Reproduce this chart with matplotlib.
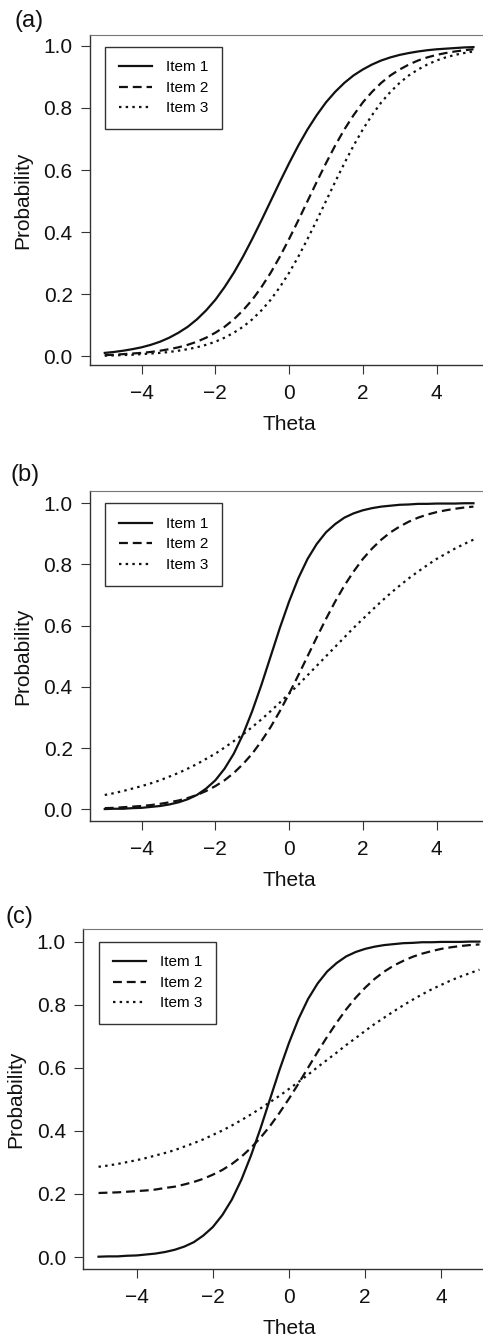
import numpy as np
import matplotlib
matplotlib.use("Agg")
import matplotlib.pyplot as plt

plt.rcParams["font.family"] = ["Liberation Sans", "DejaVu Sans"]

# theta grid shared by all panels
theta = np.linspace(-5, 5, 41)

# (a) one-parameter curves
a_item1 = [0.011, 0.014, 0.018, 0.023, 0.029, 0.037, 0.047, 0.060, 0.076, 0.095,
           0.119, 0.148, 0.182, 0.223, 0.269, 0.321, 0.378, 0.438, 0.500, 0.562,
           0.622, 0.679, 0.731, 0.777, 0.818, 0.852, 0.881, 0.905, 0.924, 0.940,
           0.953, 0.963, 0.971, 0.977, 0.982, 0.986, 0.989, 0.991, 0.993, 0.995,
           0.996]
a_item2 = [0.004, 0.005, 0.007, 0.009, 0.011, 0.014, 0.018, 0.023, 0.029, 0.037,
           0.047, 0.060, 0.076, 0.095, 0.119, 0.148, 0.182, 0.223, 0.269, 0.321,
           0.378, 0.438, 0.500, 0.562, 0.622, 0.679, 0.731, 0.777, 0.818, 0.852,
           0.881, 0.905, 0.924, 0.940, 0.953, 0.963, 0.971, 0.977, 0.982, 0.986,
           0.989]
a_item3 = [0.002, 0.003, 0.004, 0.005, 0.007, 0.009, 0.011, 0.014, 0.018, 0.023,
           0.029, 0.037, 0.047, 0.060, 0.076, 0.095, 0.119, 0.148, 0.182, 0.223,
           0.269, 0.321, 0.378, 0.438, 0.500, 0.562, 0.622, 0.679, 0.731, 0.777,
           0.818, 0.852, 0.881, 0.905, 0.924, 0.940, 0.953, 0.963, 0.971, 0.977,
           0.982]

# (b) two-parameter curves
b_item1 = [0.001, 0.002, 0.002, 0.004, 0.005, 0.008, 0.011, 0.016, 0.023, 0.033,
           0.047, 0.068, 0.095, 0.133, 0.182, 0.245, 0.321, 0.407, 0.500, 0.593,
           0.679, 0.755, 0.818, 0.867, 0.905, 0.932, 0.953, 0.967, 0.977, 0.984,
           0.989, 0.992, 0.995, 0.996, 0.998, 0.998, 0.999, 0.999, 0.999, 1.000,
           1.000]
b_item2 = a_item2
b_item3 = [0.047, 0.053, 0.060, 0.068, 0.076, 0.085, 0.095, 0.107, 0.119, 0.133,
           0.148, 0.165, 0.182, 0.202, 0.223, 0.245, 0.269, 0.294, 0.321, 0.349,
           0.378, 0.407, 0.438, 0.469, 0.500, 0.531, 0.562, 0.593, 0.622, 0.651,
           0.679, 0.706, 0.731, 0.755, 0.777, 0.798, 0.818, 0.835, 0.852, 0.867,
           0.881]

# (c) three-parameter curves
c_item1 = b_item1
c_item2 = [0.203, 0.204, 0.205, 0.207, 0.209, 0.211, 0.214, 0.219, 0.223, 0.230,
           0.238, 0.248, 0.261, 0.276, 0.295, 0.318, 0.346, 0.378, 0.415, 0.457,
           0.502, 0.550, 0.600, 0.650, 0.698, 0.743, 0.785, 0.822, 0.854, 0.882,
           0.905, 0.924, 0.939, 0.952, 0.962, 0.970, 0.977, 0.982, 0.986, 0.989,
           0.991]
c_item3 = [0.286, 0.290, 0.295, 0.301, 0.307, 0.314, 0.322, 0.330, 0.339, 0.350,
           0.361, 0.373, 0.387, 0.401, 0.417, 0.434, 0.452, 0.471, 0.491, 0.511,
           0.533, 0.555, 0.578, 0.602, 0.625, 0.648, 0.672, 0.694, 0.717, 0.739,
           0.759, 0.779, 0.798, 0.816, 0.833, 0.849, 0.863, 0.877, 0.889, 0.900,
           0.911]

labels = ["Item 1", "Item 2", "Item 3"]
xticks = [-4, -2, 0, 2, 4]
yticks = [0.0, 0.2, 0.4, 0.6, 0.8, 1.0]

W, H = 483, 1339
fig = plt.figure(figsize=(W / 100, H / 100), dpi=100)

styles = [dict(linestyle="-"),
          dict(linestyle=(0, (4.0, 2.2))),
          dict(linestyle=(0, (1.1, 1.9)))]


def panel(box, ylim, curves, tag, tag_xy, leg_xy):
    left, right, top, bottom = box
    ax = fig.add_axes([left / W, 1 - bottom / H, (right - left) / W, (bottom - top) / H])
    for ys, lab, st in zip(curves, labels, styles):
        ax.plot(theta, ys, color="#111111", lw=1.6, label=lab, **st)
    ax.set_xlim(-5.4, 5.4)
    ax.set_ylim(*ylim)
    ax.set_xticks(xticks)
    ax.set_yticks(yticks)
    ax.set_yticklabels(["%.1f" % v for v in yticks])
    ax.tick_params(direction="out", length=6.5, width=0.8, color="#333333",
                   labelsize=15, labelcolor="#111111")
    ax.tick_params(axis="y", pad=6)
    ax.tick_params(axis="x", pad=7)
    for s in ["left", "bottom"]:
        ax.spines[s].set_color("#333333")
        ax.spines[s].set_linewidth(1.0)
    ax.spines["top"].set_color("#777777")
    ax.spines["top"].set_linewidth(0.8)
    ax.spines["top"].set_linestyle((0, (1, 1)))
    ax.spines["right"].set_visible(False)
    ax.set_xlabel("Theta", fontsize=15, labelpad=9, color="#111111")
    ax.set_ylabel("Probability", fontsize=15, labelpad=8, color="#111111")
    lx = (leg_xy[0] - left) / (right - left)
    ly = 1 - (leg_xy[1] - top) / (bottom - top)
    leg = ax.legend(loc="upper left", bbox_to_anchor=(lx, ly), borderaxespad=0,
                    fontsize=11, handlelength=2.2, handletextpad=0.9,
                    labelspacing=0.42, borderpad=0.9, fancybox=False,
                    framealpha=1, edgecolor="#333333")
    leg.get_frame().set_linewidth(1.0)
    fig.text(tag_xy[0] / W, 1 - tag_xy[1] / H, tag, fontsize=17,
             ha="center", va="center", color="#111111")
    return ax


panel((90, 488.2, 34.7, 365), (-0.028, 1.036), [a_item1, a_item2, a_item3],
      "(a)", (29, 21), (105, 46.7))
panel((90, 488.2, 491, 821), (-0.038, 1.040), [b_item1, b_item2, b_item3],
      "(b)", (25, 475), (105, 503.3))
panel((83.3, 494.7, 929.3, 1269), (-0.038, 1.039), [c_item1, c_item2, c_item3],
      "(c)", (19, 917), (99, 941.7))

fig.savefig("out.png", dpi=100)
